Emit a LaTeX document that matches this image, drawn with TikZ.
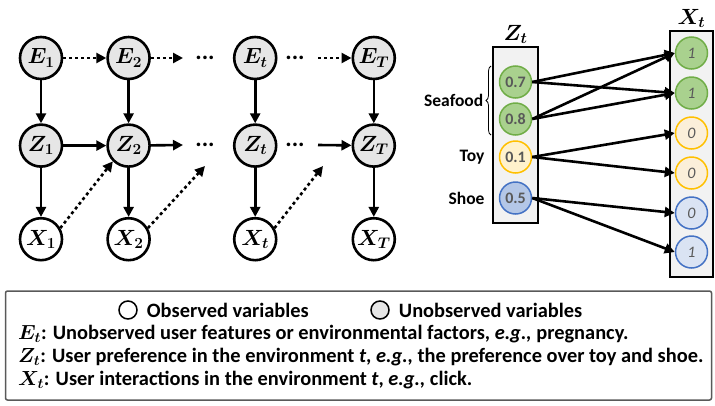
\RequirePackage{fix-cm}
\documentclass[tikz,border=0pt]{standalone}
\usepackage{fontspec}
\setmainfont{Carlito}
\usetikzlibrary{positioning}
\usetikzlibrary{arrows.meta}
\usetikzlibrary{decorations.pathreplacing}

\definecolor{hidgray}{HTML}{E6E6E6}
\definecolor{boxgray}{HTML}{F2F2F2}
\definecolor{valgray}{HTML}{595959}
\definecolor{gfill}{HTML}{A9D18E}
\definecolor{gline}{HTML}{70AD47}
\definecolor{yfill}{HTML}{FFF2CC}
\definecolor{yfillx}{HTML}{FBEFDA}
\definecolor{yline}{HTML}{FFC000}
\definecolor{bfill}{HTML}{B4C7E7}
\definecolor{bfillx}{HTML}{DAE3F3}
\definecolor{bline}{HTML}{4472C4}

\begin{document}
\begin{tikzpicture}[
    x=1pt, y=-1pt,
    font=\bfseries\boldmath,
    hnode/.style={circle, draw, line width=2.6pt, fill=hidgray, minimum size=42pt, inner sep=0,
        font=\fontsize{22}{26}\selectfont\bfseries\boldmath},
    onode/.style={hnode, fill=white},
    sedge/.style={-{Triangle[length=10pt, width=10pt]}, line width=2.6pt},
    dedge/.style={sedge, dash pattern=on 3pt off 3pt},
    dots/.style={inner sep=0, font=\fontsize{24}{28}\selectfont\bfseries},
    panel/.style={draw, line width=1.5pt, fill=boxgray, inner sep=0},
    vcirc/.style={circle, line width=1.5pt, minimum size=32pt, inner sep=0},
    zval/.style={vcirc, text=valgray, font=\fontsize{16}{19}\selectfont\bfseries},
    xval/.style={vcirc, text=valgray, font=\fontsize{16}{19}\selectfont\itshape},
    vlabel/.style={font=\fontsize{22}{26}\selectfont\bfseries\boldmath},
    side/.style={anchor=east, font=\fontsize{17.5}{21}\selectfont\bfseries},
    ltext/.style={anchor=west, inner sep=0, font=\fontsize{20.4}{24}\selectfont\bfseries\boldmath}
]
\useasboundingbox (0,0) rectangle (715,405);

% Graph
\node[hnode] (e1) at (41,58) {$E_1$};
\node[hnode, right=43pt of e1] (e2) {$E_2$};
\node[hnode, right=82pt of e2] (et) {$E_t$};
\node[hnode, right=74pt of et] (eT) {$E_T$};
\node[hnode, below=43pt of e1] (z1) {$Z_1$};
\node[hnode, below=43pt of e2] (z2) {$Z_2$};
\node[hnode, below=43pt of et] (zt) {$Z_t$};
\node[hnode, below=43pt of eT] (zT) {$Z_T$};
\node[onode, below=49pt of z1] (x1) {$X_1$};
\node[onode, below=49pt of z2] (x2) {$X_2$};
\node[onode, below=49pt of zt] (xt) {$X_t$};
\node[onode, below=49pt of zT] (xT) {$X_T$};

\node[dots] (de1) at (205,58) {...};
\node[dots] (de2) at (295,58) {...};
\node[dots] (dz1) at (205,145) {...};
\node[dots] (dz2) at (295,145) {...};

\coordinate (ee2) at (183,58);
\coordinate (se3) at (318,58);
\coordinate (ez2) at (183,145);
\coordinate (sz3) at (318,145);
\coordinate (ex2) at (205,166);
\coordinate (ext) at (323,166);

\draw[dedge] (e1) -- (e2);
\draw[dedge] (e2) -- (ee2);
\draw[dedge] (se3) -- (eT);
\draw[sedge] (z1) -- (z2);
\draw[sedge] (z2) -- (ez2);
\draw[sedge] (sz3) -- (zT);
\foreach \c in {1,2,t,T} {
    \draw[sedge] (e\c) -- (z\c);
    \draw[sedge] (z\c) -- (x\c);
}
\draw[dedge] (x1.30) -- (z2.225);
\draw[dedge] (x2.30) -- (ex2);
\draw[dedge] (xt.30) -- (ext);

% Z_t panel
\node[panel, minimum width=45pt, minimum height=176pt] (zbox) at (515.5,135) {};
\node[vlabel, above=-1pt of zbox] (zlab) {$Z_t$};
\node[zval, draw=gline, fill=gfill] (za) at (515.5,82) {0.7};
\node[zval, draw=gline, fill=gfill] (zb) at (515.5,119) {0.8};
\node[zval, draw=yline, fill=yfill] (zc) at (515.5,157) {0.1};
\node[zval, draw=bline, fill=bfill] (zd) at (515.5,198) {0.5};
\draw[line width=0.8pt, decorate, decoration={brace, amplitude=5pt}]
    (491,135) -- node[side, left=4pt] (seafood) {Seafood} (491,66);
\node[side] (toy) at (488,157) {Toy};
\node[side] (shoe) at (488,198) {Shoe};

% X_t panel
\node[panel, minimum width=43pt, minimum height=246pt] (xbox) at (691.5,154) {};
\node[vlabel, above=-1pt of xbox] (xlab) {$X_t$};
\node[xval, draw=gline, fill=gfill] (xa) at (691.5,53) {1};
\node[xval, draw=gline, fill=gfill] (xb) at (691.5,93) {1};
\node[xval, draw=yline, fill=yfillx] (xc) at (691.5,133) {0};
\node[xval, draw=yline, fill=yfillx] (xd) at (691.5,173) {0};
\node[xval, draw=bline, fill=bfillx] (xe) at (691.5,213) {0};
\node[xval, draw=bline, fill=bfillx] (xf) at (691.5,252) {1};

\foreach \a/\b in {za/xa, za/xb, zb/xa, zb/xb, zc/xc, zc/xd, zd/xe, zd/xf}
    \draw[sedge] (\a.east) -- (\b.west);

% Legend
\node[draw=black!65, line width=1.5pt, rounded corners=2pt, minimum width=706pt, minimum height=109pt] (legend) at (358.5,345.5) {};
\node[onode, minimum size=18pt, line width=1.5pt] (lobs) at (128,310) {};
\node[ltext, right=9pt of lobs] (tobs) {Observed variables};
\node[hnode, minimum size=18pt, line width=1.5pt] (lhid) at (380,310) {};
\node[ltext, right=9pt of lhid] (thid) {Unobserved variables};
\node[ltext] (te) at (18,334) {$E_t$: Unobserved user features or environmental factors, \textit{e.g.,} pregnancy.};
\node[ltext] (tz) at (18,357) {$Z_t$: User preference in the environment \textit{t}, \textit{e.g.,} the preference over toy and shoe.};
\node[ltext] (tx) at (18,380) {$X_t$: User interactions in the environment \textit{t}, \textit{e.g.,} click.};

\end{tikzpicture}
\end{document}
